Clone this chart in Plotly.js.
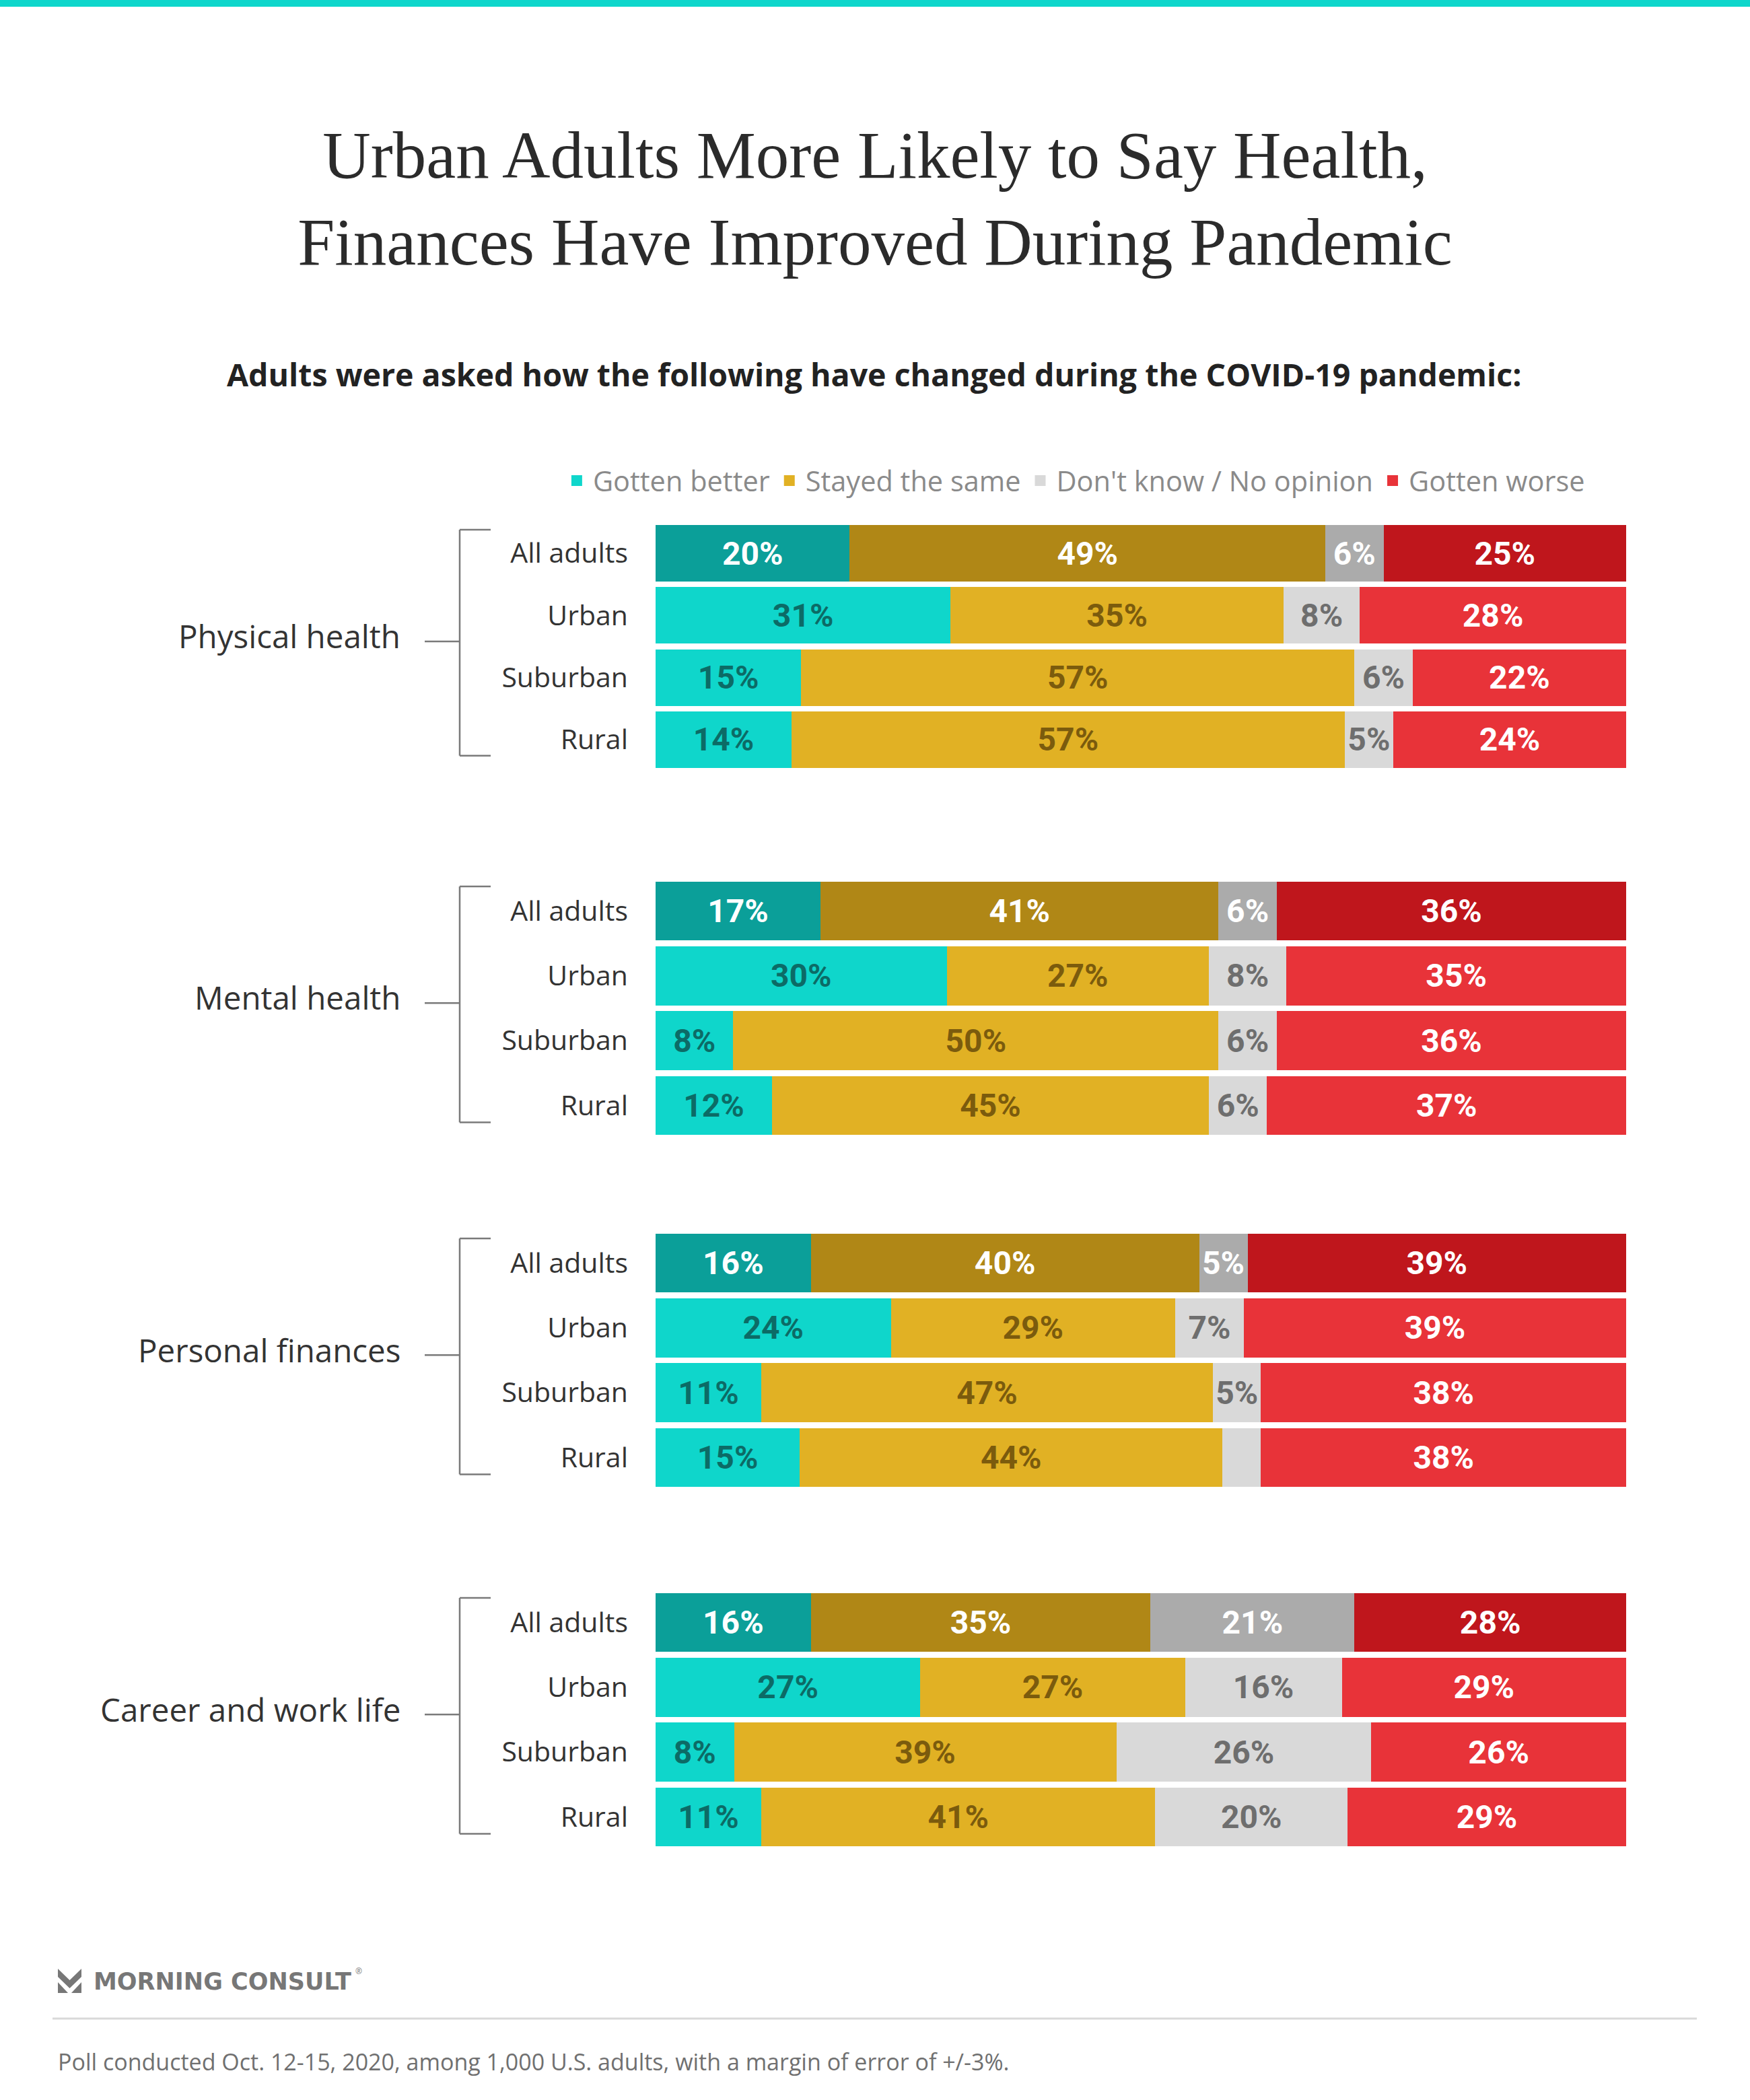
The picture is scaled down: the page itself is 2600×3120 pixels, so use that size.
<!DOCTYPE html>
<html>
<head>
<meta charset="utf-8">
<script src="https://cdn.plot.ly/plotly-3.0.1.min.js"></script>
<style>html,body{margin:0;padding:0;background:#fff;}</style>
</head>
<body>
<div id="chart" style="width:2600px;height:3120px;"></div>
<script>
// ---- DATA ----
const groups = ["Physical health", "Mental health", "Personal finances", "Career and work life"];
const rows = ["All adults", "Urban", "Suburban", "Rural"];
const seriesNames = ["Gotten better", "Stayed the same", "Don't know / No opinion", "Gotten worse"];
// values per group: [All adults, Urban, Suburban, Rural]
const gottenBetter = [[20, 31, 15, 14], [17, 30, 8, 12], [16, 24, 11, 15], [16, 27, 8, 11]];
const stayedSame   = [[49, 35, 57, 57], [41, 27, 50, 45], [40, 29, 47, 44], [35, 27, 39, 41]];
const dontKnow     = [[6, 8, 6, 5],     [6, 8, 6, 6],     [5, 7, 5, 4],     [21, 16, 26, 20]];
const gottenWorse  = [[25, 28, 22, 24], [36, 35, 36, 37], [39, 39, 38, 38], [28, 29, 26, 29]];
const seriesValues = [gottenBetter, stayedSame, dontKnow, gottenWorse];

// ---- STYLE ----
const W = 2600, H = 3120;
const baseColors = ['#0fd6cb', '#e1b124', '#d9d9d9', '#e83339'];
const allColors  = ['#0b9f99', '#b08716', '#ababab', '#bf161c'];
const baseText   = ['#0c6b66', '#7b5b0d', '#6e6e6e', '#ffffff'];
const domainsPx = [[776, 1145], [1305.5, 1690.5], [1828.5, 2213.5], [2362.5, 2747.5]];
const barLeft = 974, barRight = 2416;
const px = x => x / W;
const py = y => 1 - y / H;

const traces = [];
const layout = {
  width: W, height: H,
  margin: {l: 0, r: 0, t: 0, b: 0},
  paper_bgcolor: '#ffffff', plot_bgcolor: '#ffffff',
  barmode: 'stack', barnorm: 'percent', bargap: 0.09,
  uniformtext: {mode: 'hide', minsize: 48},
  showlegend: true,
  legend: {orientation: 'h', x: 0.614, xanchor: 'center', y: py(714), yanchor: 'middle',
           itemwidth: 38, traceorder: 'normal',
           font: {family: 'Open Sans', size: 41.5, color: '#8a8a8a'}, bgcolor: 'rgba(0,0,0,0)'},
  title: {
    text: 'Urban Adults More Likely to Say Health,<br>Finances Have Improved During Pandemic',
    font: {family: 'Liberation Serif', size: 99, color: '#2b2b2b'},
    x: 0.5, xanchor: 'center', xref: 'paper', y: py(264), yanchor: 'middle', yref: 'container'
  },
  annotations: [], shapes: []
};

groups.forEach((g, gi) => {
  const xa = gi === 0 ? 'x' : 'x' + (gi + 1);
  const ya = gi === 0 ? 'y' : 'y' + (gi + 1);
  const xKey = gi === 0 ? 'xaxis' : 'xaxis' + (gi + 1);
  const yKey = gi === 0 ? 'yaxis' : 'yaxis' + (gi + 1);
  const [top, bot] = domainsPx[gi];
  layout[xKey] = {domain: [px(barLeft), px(barRight)], range: [0, 100], visible: false,
                  fixedrange: true, anchor: ya};
  layout[yKey] = {domain: [py(bot), py(top)], type: 'category', categoryorder: 'array',
                  categoryarray: rows, autorange: 'reversed', showgrid: false, zeroline: false,
                  showline: false, ticks: '', ticklabelstandoff: 40, anchor: xa, fixedrange: true,
                  tickfont: {family: 'Open Sans', size: 41, color: '#333333'}};
  seriesValues.forEach((vals, si) => {
    traces.push({
      type: 'bar', orientation: 'h',
      xaxis: xa, yaxis: ya,
      name: seriesNames[si], legendgroup: seriesNames[si], showlegend: false,
      y: rows,
      x: vals[gi],
      text: vals[gi].map(v => v + '%'),
      textposition: 'inside', insidetextanchor: 'middle', textangle: 0,
      textfont: {family: 'Roboto', size: 48, weight: 700,
                 color: rows.map((r, i) => i === 0 ? '#ffffff' : baseText[si])},
      marker: {color: rows.map((r, i) => i === 0 ? allColors[si] : baseColors[si]), line: {width: 0}},
      hoverinfo: 'skip'
    });
  });
  const yd = ya + ' domain';
  // group label
  layout.annotations.push({text: g, xref: 'paper', yref: yd, x: px(597), y: 0.5, yshift: 16,
    xanchor: 'right', yanchor: 'middle', showarrow: false,
    font: {family: 'Open Sans', size: 47.5, color: '#333333'}});
  // bracket
  const ln = {color: '#7a7a7a', width: 2.5};
  layout.shapes.push({type: 'line', xref: 'paper', yref: yd, x0: px(683), x1: px(683), y0: 0.06, y1: 0.97, line: ln});
  layout.shapes.push({type: 'line', xref: 'paper', yref: yd, x0: px(683), x1: px(729), y0: 0.97, y1: 0.97, line: ln});
  layout.shapes.push({type: 'line', xref: 'paper', yref: yd, x0: px(683), x1: px(729), y0: 0.06, y1: 0.06, line: ln});
  layout.shapes.push({type: 'line', xref: 'paper', yref: yd, x0: px(631), x1: px(683), y0: 0.52, y1: 0.52, line: ln});
});

// legend entries (square swatches in the series colours)
seriesNames.forEach((name, si) => {
  traces.push({type: 'scatter', mode: 'markers', x: [null], y: [null], xaxis: 'x', yaxis: 'y',
    name: name, legendgroup: name, showlegend: true, hoverinfo: 'skip',
    marker: {symbol: 'square', size: 16, color: baseColors[si], line: {width: 0}}});
});

// subtitle
layout.annotations.push({text: 'Adults were asked how the following have changed during the COVID-19 pandemic:',
  xref: 'paper', yref: 'paper', x: 0.4996, y: py(556), xanchor: 'center', yanchor: 'middle', showarrow: false,
  font: {family: 'Open Sans', size: 46.5, weight: 700, color: '#222222'}});
// footer texts
layout.annotations.push({text: 'MORNING CONSULT', xref: 'paper', yref: 'paper', x: px(137), y: py(2944),
  xanchor: 'left', yanchor: 'middle', showarrow: false,
  font: {family: 'DejaVu Sans', size: 35, weight: 700, color: '#777777'}});
layout.annotations.push({text: '®', xref: 'paper', yref: 'paper', x: px(526), y: py(2928),
  xanchor: 'left', yanchor: 'middle', showarrow: false,
  font: {family: 'Open Sans', size: 12, color: '#777777'}});
layout.annotations.push({text: 'Poll conducted Oct. 12-15, 2020, among 1,000 U.S. adults, with a margin of error of +/-3%.',
  xref: 'paper', yref: 'paper', x: px(84), y: py(3063), xanchor: 'left', yanchor: 'middle', showarrow: false,
  font: {family: 'Open Sans', size: 34, color: '#707070'}});

// top teal rule
layout.shapes.push({type: 'rect', xref: 'paper', yref: 'paper', x0: 0, x1: 1, y0: py(10), y1: 1,
  fillcolor: '#0fd6cb', line: {width: 0}});
// footer separator
layout.shapes.push({type: 'line', xref: 'paper', yref: 'paper', x0: px(78), x1: px(2521), y0: py(2999), y1: py(2999),
  line: {color: '#d9d9d9', width: 3}});
// logo mark
const P = (x, y) => px(x) + ',' + py(y);
layout.shapes.push({type: 'path', xref: 'paper', yref: 'paper', fillcolor: '#777777', line: {width: 0},
  path: 'M' + P(86, 2925) + 'L' + P(103.5, 2942) + 'L' + P(121, 2925) + 'L' + P(121, 2937) +
        'L' + P(103.5, 2954) + 'L' + P(86, 2937) + 'Z'});
layout.shapes.push({type: 'path', xref: 'paper', yref: 'paper', fillcolor: '#777777', line: {width: 0},
  path: 'M' + P(86, 2945) + 'L' + P(86, 2961) + 'L' + P(101, 2961) + 'Z'});
layout.shapes.push({type: 'path', xref: 'paper', yref: 'paper', fillcolor: '#777777', line: {width: 0},
  path: 'M' + P(121, 2945) + 'L' + P(121, 2961) + 'L' + P(106, 2961) + 'Z'});

Plotly.newPlot('chart', traces, layout, {staticPlot: true, displayModeBar: false});
</script>
</body>
</html>
